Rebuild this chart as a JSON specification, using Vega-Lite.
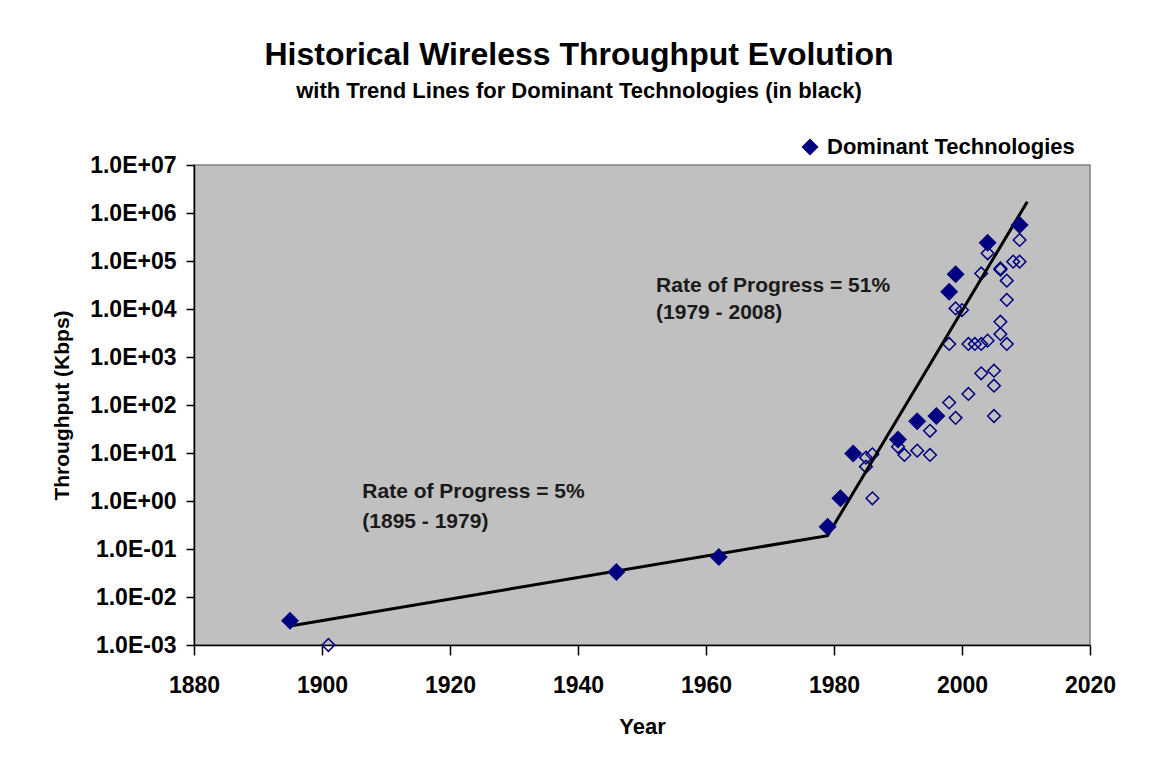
{
  "$schema": "https://vega.github.io/schema/vega-lite/v6.json",
  "autosize": {"type": "none"},
  "width": 896,
  "height": 480,
  "padding": {"left": 194, "top": 165, "right": 64, "bottom": 135},
  "background": "white",
  "config": {
    "font": "Liberation Sans",
    "view": {"fill": "#C0C0C0", "stroke": "#808080", "strokeWidth": 1.5}
  },
  "title": {
    "text": "Historical Wireless Throughput Evolution",
    "subtitle": "with Trend Lines for Dominant Technologies (in black)",
    "fontSize": 32,
    "fontWeight": "bold",
    "color": "black",
    "subtitleFontSize": 22,
    "subtitleFontWeight": "bold",
    "subtitleColor": "black",
    "subtitlePadding": 9,
    "anchor": "middle",
    "dx": -63,
    "offset": 33
  },
  "datasets": {
    "dominant": [
      {"year": 1895, "kbps": 0.0032, "series": "Dominant Technologies"},
      {"year": 1946, "kbps": 0.033, "series": "Dominant Technologies"},
      {"year": 1962, "kbps": 0.068, "series": "Dominant Technologies"},
      {"year": 1979, "kbps": 0.29, "series": "Dominant Technologies"},
      {"year": 1981, "kbps": 1.14, "series": "Dominant Technologies"},
      {"year": 1983, "kbps": 9.8, "series": "Dominant Technologies"},
      {"year": 1990, "kbps": 19, "series": "Dominant Technologies"},
      {"year": 1993, "kbps": 46, "series": "Dominant Technologies"},
      {"year": 1996, "kbps": 59, "series": "Dominant Technologies"},
      {"year": 1998, "kbps": 23000, "series": "Dominant Technologies"},
      {"year": 1999, "kbps": 53000, "series": "Dominant Technologies"},
      {"year": 2004, "kbps": 240000, "series": "Dominant Technologies"},
      {"year": 2009, "kbps": 560000, "series": "Dominant Technologies"}
    ],
    "others": [
      {"year": 1901, "kbps": 0.001},
      {"year": 1985, "kbps": 8.0},
      {"year": 1986, "kbps": 9.4},
      {"year": 1985, "kbps": 5.2},
      {"year": 1986, "kbps": 1.14},
      {"year": 1990, "kbps": 13.5},
      {"year": 1991, "kbps": 9.1},
      {"year": 1993, "kbps": 11.2},
      {"year": 1995, "kbps": 9.1},
      {"year": 1995, "kbps": 29},
      {"year": 1998, "kbps": 113},
      {"year": 1999, "kbps": 54},
      {"year": 2001, "kbps": 170},
      {"year": 2003, "kbps": 457},
      {"year": 2005, "kbps": 519},
      {"year": 2005, "kbps": 252},
      {"year": 2005, "kbps": 59},
      {"year": 1998, "kbps": 1870},
      {"year": 2001, "kbps": 1870},
      {"year": 2002, "kbps": 1870},
      {"year": 2003, "kbps": 1870},
      {"year": 2004, "kbps": 2190},
      {"year": 2006, "kbps": 5430},
      {"year": 2006, "kbps": 3000},
      {"year": 2007, "kbps": 1870},
      {"year": 2007, "kbps": 15500},
      {"year": 2007, "kbps": 39000},
      {"year": 2006, "kbps": 70000},
      {"year": 2006, "kbps": 66000},
      {"year": 2008, "kbps": 97000},
      {"year": 2009, "kbps": 97000},
      {"year": 2009, "kbps": 274000},
      {"year": 2004, "kbps": 145000},
      {"year": 2003, "kbps": 55000},
      {"year": 1999, "kbps": 10300},
      {"year": 2000, "kbps": 9500}
    ],
    "trend": [
      {"year": 1895, "kbps": 0.0025},
      {"year": 1979, "kbps": 0.19},
      {"year": 2010.2, "kbps": 1720000}
    ],
    "notes": [
      {"year": 1906.3, "kbps": 1.54, "label": "Rate of Progress = 5%"},
      {"year": 1906.3, "kbps": 0.365, "label": "(1895  -  1979)"},
      {"year": 1952.2, "kbps": 30100, "label": "Rate of Progress = 51%"},
      {"year": 1952.2, "kbps": 8260, "label": "(1979  -  2008)"}
    ]
  },
  "encoding": {
    "x": {
      "field": "year",
      "type": "quantitative",
      "scale": {"domain": [1880, 2020], "nice": false, "zero": false},
      "axis": {
        "title": "Year",
        "values": [1880, 1900, 1920, 1940, 1960, 1980, 2000, 2020],
        "format": "d",
        "grid": false,
        "domainColor": "black",
        "domainWidth": 1.5,
        "tickColor": "black",
        "tickWidth": 1.5,
        "tickSize": 10,
        "labelFontSize": 23,
        "labelFontWeight": "bold",
        "labelColor": "black",
        "labelPadding": 19,
        "labelFlush": false,
        "titleFontSize": 22,
        "titleFontWeight": "bold",
        "titleColor": "black",
        "titlePadding": 19
      }
    },
    "y": {
      "field": "kbps",
      "type": "quantitative",
      "scale": {"type": "log", "domain": [0.001, 10000000], "nice": false},
      "axis": {
        "title": "Throughput (Kbps)",
        "values": [0.001, 0.01, 0.1, 1, 10, 100, 1000, 10000, 100000, 1000000, 10000000],
        "labelExpr": "'1.0E' + (datum.value >= 1 ? '+' : '-') + pad(toString(abs(round(log(datum.value) / LN10))), 2, '0', 'left')",
        "grid": false,
        "domainColor": "black",
        "domainWidth": 1.5,
        "tickColor": "black",
        "tickWidth": 1.5,
        "tickSize": 8,
        "labelFontSize": 23,
        "labelFontWeight": "bold",
        "labelColor": "black",
        "labelPadding": 10,
        "labelFlush": false,
        "titleFontSize": 21,
        "titleFontWeight": "bold",
        "titleColor": "black",
        "titlePadding": 17
      }
    }
  },
  "layer": [
    {
      "data": {"name": "others"},
      "mark": {"type": "point", "shape": "diamond", "filled": false, "stroke": "#000080", "strokeWidth": 1.5, "size": 160, "opacity": 1}
    },
    {
      "data": {"name": "trend"},
      "mark": {"type": "line", "color": "black", "strokeWidth": 3}
    },
    {
      "data": {"name": "dominant"},
      "mark": {"type": "point", "filled": true, "size": 324, "opacity": 1},
      "encoding": {
        "shape": {
          "field": "series",
          "type": "nominal",
          "scale": {"domain": ["Dominant Technologies"], "range": ["diamond"]},
          "legend": {
            "title": null,
            "orient": "none",
            "legendX": 605,
            "legendY": -29,
            "symbolSize": 225,
            "symbolFillColor": "#000080",
            "symbolStrokeColor": "#000080",
            "labelFontSize": 22,
            "labelFontWeight": "bold",
            "labelColor": "black",
            "labelOffset": 6,
            "labelLimit": 400,
            "padding": 0
          }
        },
        "color": {
          "field": "series",
          "type": "nominal",
          "scale": {"domain": ["Dominant Technologies"], "range": ["#000080"]}
        }
      }
    },
    {
      "data": {"name": "notes"},
      "mark": {"type": "text", "align": "left", "baseline": "middle", "fontSize": 21, "fontWeight": "bold", "color": "#1a1a1a"},
      "encoding": {"text": {"field": "label"}}
    }
  ]
}
